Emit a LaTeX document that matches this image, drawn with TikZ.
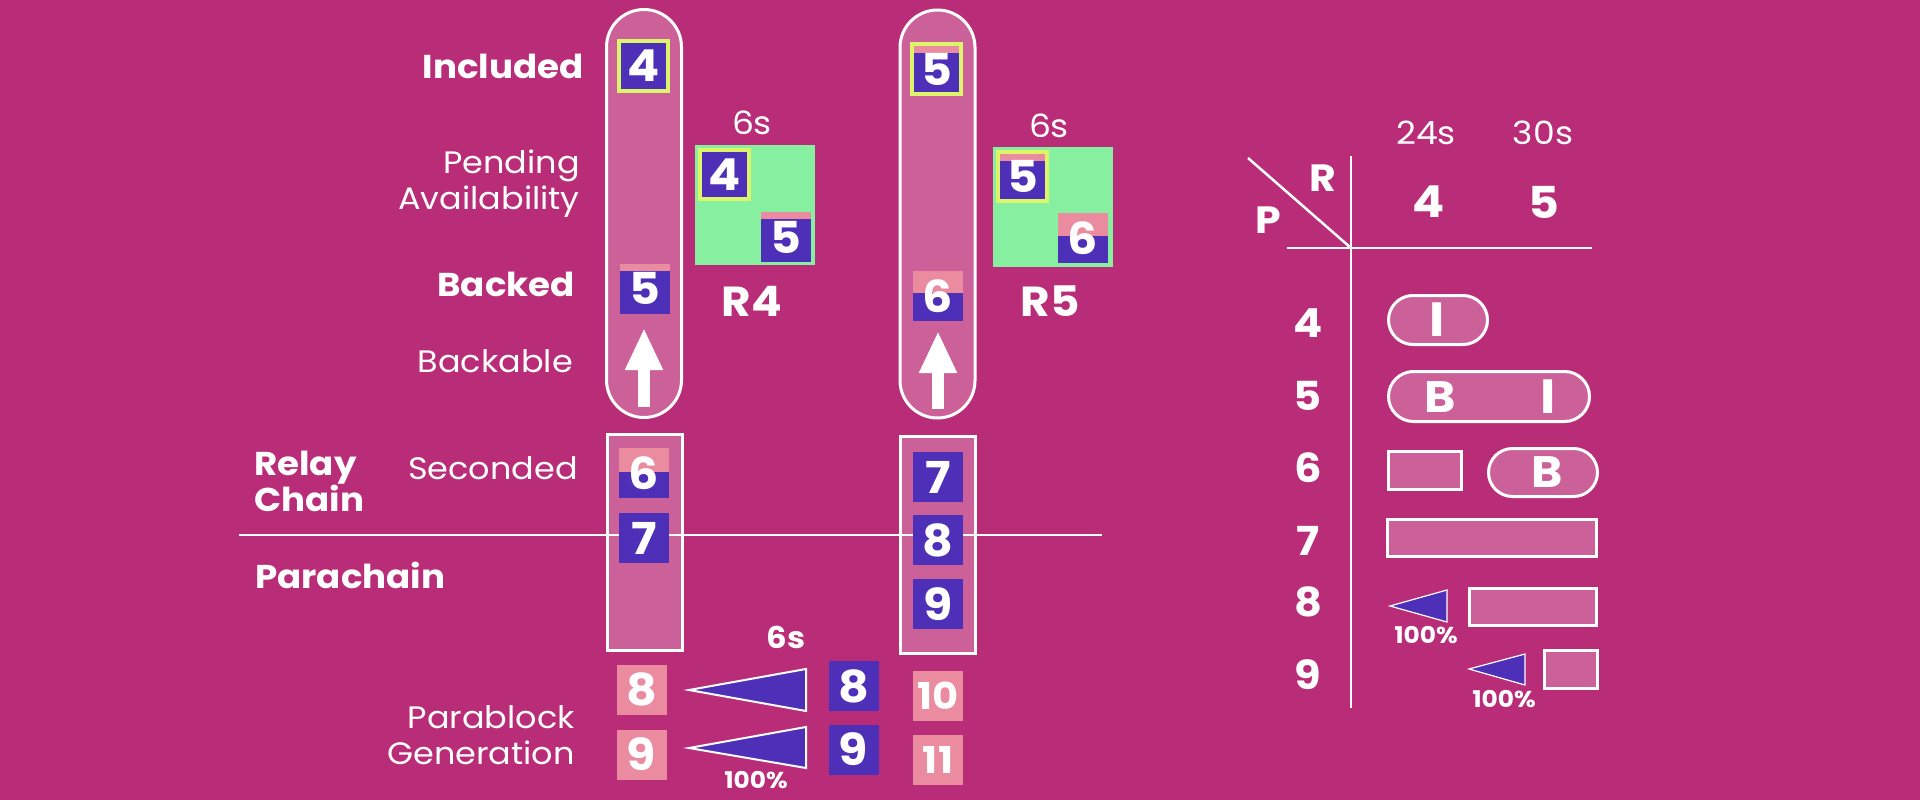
\documentclass[tikz,border=0pt]{standalone}
\usepackage{fontspec}
\setmainfont{Poppins}[FakeStretch=1.08]
\usetikzlibrary{arrows.meta}
\definecolor{bg}{HTML}{B92D78}
\definecolor{pillc}{HTML}{CC6199}
\definecolor{purp}{HTML}{4E2FB8}
\definecolor{pinkb}{HTML}{EB8BA0}
\definecolor{yel}{HTML}{DCF56A}
\definecolor{grn}{HTML}{86F0A0}
\newcommand\fdig{\fontsize{44}{44}\selectfont\bfseries}
\newcommand\flab{\fontsize{33}{36}\selectfont\bfseries}
\newcommand\flight{\fontsize{31}{36}\selectfont}
\newcommand\fsec{\fontsize{32}{32}\selectfont}
\newcommand\fsmall{\fontsize{23}{23}\selectfont\bfseries}
\tikzset{
  blk/.style={rectangle, minimum width=50, minimum height=50, inner sep=0, fill=purp, text=white, font=\fdig},
  pblk/.style={blk, fill=pinkb},
  yb/.style={draw=yel, line width=4, minimum width=49, minimum height=49},
  ptop/.style={path picture={\fill[pinkb] (path picture bounding box.north west) rectangle ([yshift=-#1pt]path picture bounding box.north east);}},
  pill/.style={draw=white, line width=3, fill=pillc, inner sep=0},
  lbl/.style={text=white, inner sep=0},
  grid/.style={draw=white, line width=2.5},
  wedge/.style={fill=purp, draw=white, line width=2, line join=miter},
  uparrow/.style={draw=white, line width=12, -{Triangle[width=35pt,length=42pt]}},
}
\begin{document}
\begin{tikzpicture}[x=1pt,y=-1pt]
\useasboundingbox (0,0) rectangle (1920,800);
\fill[bg] (0,0) rectangle (1920,800);

% ---------- pills and rectangles ----------
\node[pill, rounded corners=37.5, minimum width=75, minimum height=408] (pillL) at (644,213.5) {};
\node[pill, rounded corners=37.5, minimum width=75, minimum height=408] (pillR) at (937.5,214) {};
\node[pill, minimum width=75, minimum height=216] (rectL) at (645,542.5) {};
\node[pill, minimum width=75, minimum height=217] (rectR) at (938,545) {};

% separator line
\coordinate (sepA) at (239,535);
\coordinate (sepB) at (1102,535);
\draw[white, line width=1.5] (sepA) -- (sepB);

% ---------- left labels ----------
\node[lbl, font=\flab, anchor=east] (tIncl) at (584,66) {Included};
\node[lbl, font=\flight, anchor=east, align=right] (tPend) at (580,184) {Pending\\Availability};
\node[lbl, font=\flab, anchor=east] (tBacked) at (575,284) {Backed};
\node[lbl, font=\flight, anchor=east] (tBackable) at (573,361) {Backable};
\node[lbl, font=\flab, align=left, anchor=west] (tRelay) at (254,481) {Relay\\Chain};
\node[lbl, font=\flight, anchor=east] (tSec) at (578,468) {Seconded};
\node[lbl, font=\flab, anchor=west] (tPara) at (255,575) {Parachain};
\node[lbl, font=\flight, anchor=east, align=right] (tGen) at (575,735) {Parablock\\Generation};

% ---------- left column blocks ----------
\node[blk, yb] (L4) at (643.5,66) {4};
\node[blk, ptop=7] (L5) at (645,288.5) {5};
\node[blk, ptop=24] (L6) at (644,473) {6};
\node[blk] (L7) at (644,538) {7};
\coordinate (aL0) at (644,407);
\coordinate (aL1) at (644,328);
\draw[uparrow] (aL0) -- (aL1);

% ---------- right column blocks ----------
\node[blk, yb, ptop=9] (R5b) at (936.5,69) {5};
\node[blk, ptop=22] (R6b) at (938,296) {6};
\node[blk] (R7b) at (938,477) {7};
\node[blk] (R8b) at (938,540) {8};
\node[blk] (R9b) at (938,604) {9};
\coordinate (aR0) at (938,409);
\coordinate (aR1) at (938,331);
\draw[uparrow] (aR0) -- (aR1);

% ---------- green boxes ----------
\node[lbl, font=\fsec] (s6a) at (752,123) {6s};
\node[fill=grn, minimum width=120, minimum height=120, inner sep=0] (G4) at (755,205) {};
\node[blk, yb] (G4a) at (724.5,174.5) {4};
\node[blk, ptop=7] (G4b) at (786,237) {5};
\node[lbl, font=\fontsize{42}{42}\selectfont\bfseries] (R4) at (752,301) {R4};

\node[lbl, font=\fsec] (s6b) at (1049,126) {6s};
\node[fill=grn, minimum width=120, minimum height=120, inner sep=0] (G5) at (1052.5,207) {};
\node[blk, yb, ptop=9] (G5a) at (1022.5,176) {5};
\node[blk, ptop=23] (G5b) at (1083,238) {6};
\node[lbl, font=\fontsize{42}{42}\selectfont\bfseries] (R5) at (1050,301) {R5};

% ---------- parablock generation ----------
\node[lbl, font=\fontsize{30}{30}\selectfont\bfseries] (s6c) at (786,637) {6s};
\node[pblk] (P8) at (641.5,689.5) {8};
\node[pblk] (P9) at (641.5,754.5) {9};
\node[blk] (Q8) at (853.5,686) {8};
\node[blk] (Q9) at (853.5,749.5) {9};
\node[pblk, font=\fontsize{37}{37}\selectfont\bfseries] (P10) at (938,695.5) {10};
\node[pblk, font=\fontsize{37}{37}\selectfont\bfseries] (P11) at (938,760) {11};
\coordinate (w1t) at (689,690);
\coordinate (w1a) at (806,669);
\coordinate (w1b) at (806,711);
\draw[wedge] (w1t) -- (w1a) -- (w1b) -- cycle;
\coordinate (w2t) at (689,748);
\coordinate (w2a) at (806,727);
\coordinate (w2b) at (806,768);
\draw[wedge] (w2t) -- (w2a) -- (w2b) -- cycle;
\node[lbl, font=\fsmall] (pc1) at (756,780) {100\%};

% ---------- table ----------
\node[lbl, font=\fsec] (h24) at (1426,133) {24s};
\node[lbl, font=\fsec] (h30) at (1543,133) {30s};
\node[lbl, font=\fontsize{44}{44}\selectfont\bfseries] (hR4) at (1429,202) {4};
\node[lbl, font=\fontsize{44}{44}\selectfont\bfseries] (hR5) at (1544,202) {5};
\node[lbl, font=\fontsize{38}{38}\selectfont\bfseries] (hR) at (1323,178) {R};
\node[lbl, font=\fontsize{38}{38}\selectfont\bfseries] (hP) at (1268,220) {P};
\coordinate (vT) at (1351,156);
\coordinate (vB) at (1351,708);
\coordinate (dA) at (1248,158);
\coordinate (dB) at (1351,248);
\coordinate (hA) at (1287,248);
\coordinate (hB) at (1592,248);
\draw[grid] (vT) -- (vB);
\draw[grid] (dA) -- (dB);
\draw[grid] (hA) -- (hB);

\foreach \n/\yy in {4/323,5/396,6/468,7/541,8/602,9/675}
  \node[lbl, font=\fontsize{40}{40}\selectfont\bfseries] (row\n) at (1308,\yy) {\n};

\node[pill, rounded corners=24.5, minimum width=99, minimum height=49] (c44) at (1438,320) {};
\node[lbl, font=\fontsize{48}{48}\selectfont\bfseries] (c44t) at (1437,320) {I};

\node[pill, rounded corners=25, minimum width=201, minimum height=50] (c5) at (1489,396.5) {};
\node[lbl, font=\fontsize{44}{44}\selectfont\bfseries] (c54t) at (1440,397) {B};
\node[lbl, font=\fontsize{48}{48}\selectfont\bfseries] (c55t) at (1548,397) {I};

\node[pill, minimum width=73, minimum height=38] (c64) at (1425,470.5) {};
\node[pill, rounded corners=24, minimum width=109, minimum height=48] (c65) at (1543,472.5) {};
\node[lbl, font=\fontsize{44}{44}\selectfont\bfseries] (c65t) at (1547,472) {B};

\node[pill, minimum width=209, minimum height=37] (c7) at (1492,538) {};

\coordinate (x8t) at (1390,606);
\coordinate (x8a) at (1447,590);
\coordinate (x8b) at (1447,622);
\draw[wedge, line width=1.2] (x8t) -- (x8a) -- (x8b) -- cycle;
\node[lbl, font=\fsmall] (pc8) at (1426,635) {100\%};
\node[pill, minimum width=127, minimum height=37] (c8) at (1533,607) {};

\coordinate (x9t) at (1469,669);
\coordinate (x9a) at (1525,654);
\coordinate (x9b) at (1525,685);
\draw[wedge, line width=1.2] (x9t) -- (x9a) -- (x9b) -- cycle;
\node[lbl, font=\fsmall] (pc9) at (1504,699) {100\%};
\node[pill, minimum width=53, minimum height=38] (c9) at (1571,669.5) {};
\end{tikzpicture}
\end{document}
